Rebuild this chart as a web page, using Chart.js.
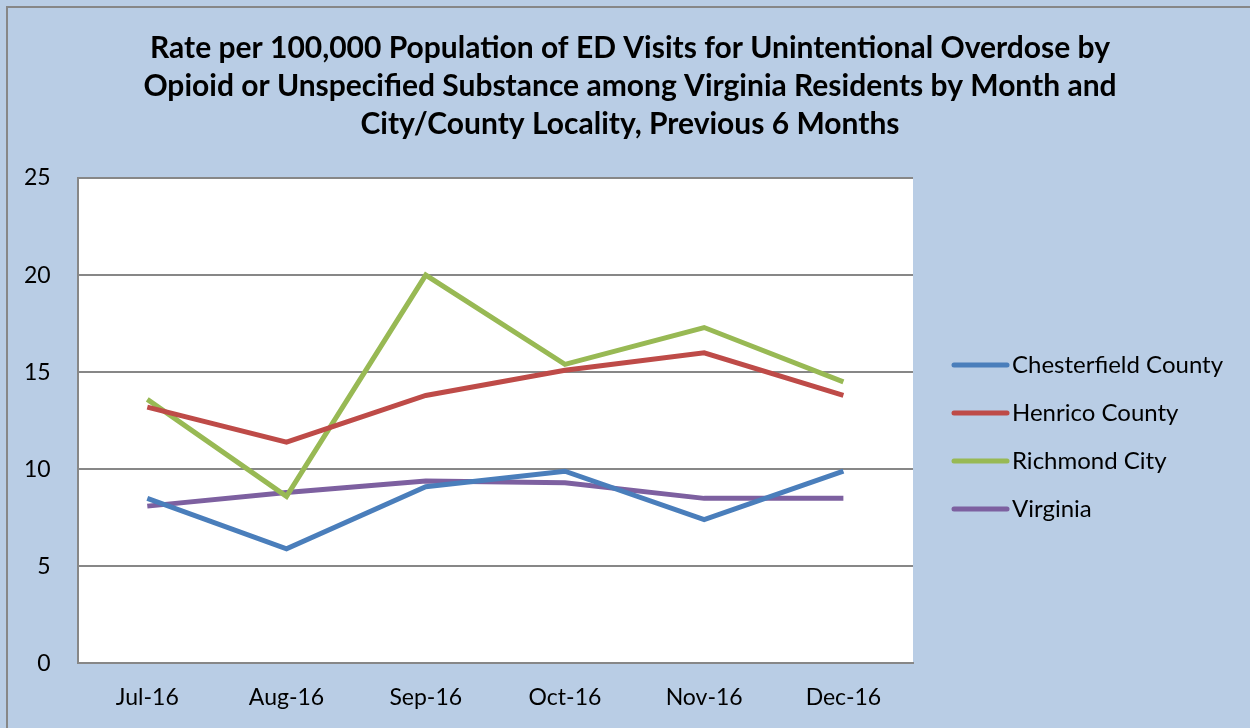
<!DOCTYPE html>
<html lang="en">
<head>
    <meta charset="UTF-8">
    <title>ED Visits for Unintentional Overdose</title>
    <style>
        body { margin: 0; background: #b9cde5; overflow: hidden; }
        #frame { position: absolute; left: 6px; top: 6px; width: 1260px; height: 740px;
                 border-left: 2px solid #878787; border-top: 2px solid #878787; }
        #chart-container { position: absolute; left: 0; top: 0; width: 1250px; height: 728px; }
    </style>
</head>
<body>
    <div id="frame"></div>
    <div id="chart-container">
        <canvas id="resultChart" width="1250" height="728"></canvas>
    </div>

    <script src="https://cdn.jsdelivr.net/npm/chart.js"></script>
    <script>
        const months = ['Jul-16', 'Aug-16', 'Sep-16', 'Oct-16', 'Nov-16', 'Dec-16'];
        const chesterfield = [8.5, 5.9, 9.1, 9.9, 7.4, 9.9];
        const henrico = [13.2, 11.4, 13.8, 15.1, 16.0, 13.8];
        const richmond = [13.6, 8.6, 20.0, 15.4, 17.3, 14.5];
        const virginia = [8.1, 8.8, 9.4, 9.3, 8.5, 8.5];

        const titleLines = [
            'Rate per 100,000 Population of ED Visits for Unintentional Overdose by',
            'Opioid or Unspecified Substance among Virginia Residents by Month and',
            'City/County Locality, Previous 6 Months'
        ];

        // white plot area like the spreadsheet original
        const plotBackground = {
            id: 'plotBackground',
            beforeDraw(chart) {
                const a = chart.chartArea;
                const ctx = chart.ctx;
                ctx.save();
                ctx.fillStyle = '#ffffff';
                ctx.fillRect(a.left, a.top, a.right - a.left, a.bottom - a.top);
                ctx.restore();
            }
        };

        // title centred on the whole canvas, not just the plot column
        const wideTitle = {
            id: 'wideTitle',
            afterDraw(chart) {
                const ctx = chart.ctx;
                ctx.save();
                ctx.font = 'bold 30px Lato, "Open Sans", sans-serif';
                ctx.fillStyle = '#000';
                ctx.textAlign = 'center';
                ctx.textBaseline = 'middle';
                titleLines.forEach(function (line, i) {
                    ctx.fillText(line, 630, 48 + i * 38);
                });
                ctx.restore();
            }
        };

        // legend to the right of the plot, line swatches with round ends
        const sideLegend = {
            id: 'sideLegend',
            afterDraw(chart) {
                const a = chart.chartArea;
                const ctx = chart.ctx;
                ctx.save();
                ctx.font = '24px Lato, "Open Sans", sans-serif';
                ctx.textBaseline = 'middle';
                ctx.lineCap = 'round';
                chart.data.datasets.forEach(function (ds, i) {
                    const y = a.top + 187 + i * 48;
                    const x = a.right + 41;
                    ctx.strokeStyle = ds.borderColor;
                    ctx.lineWidth = 5;
                    ctx.beginPath();
                    ctx.moveTo(x, y);
                    ctx.lineTo(x + 53, y);
                    ctx.stroke();
                    ctx.fillStyle = '#000';
                    ctx.fillText(ds.label, x + 58, y);
                });
                ctx.restore();
            }
        };

        function series(label, data, color) {
            return {
                label: label,
                data: data,
                borderColor: color,
                backgroundColor: color,
                borderWidth: 5,
                pointRadius: 0,
                tension: 0
            };
        }

        Chart.defaults.font.family = 'Lato, "Open Sans", sans-serif';
        Chart.defaults.color = '#000';

        new Chart(document.getElementById('resultChart'), {
            type: 'line',
            data: {
                labels: months,
                datasets: [
                    series('Chesterfield County', chesterfield, '#4a7ebb'),
                    series('Henrico County', henrico, '#be4b48'),
                    series('Richmond City', richmond, '#98b954'),
                    series('Virginia', virginia, '#7d60a0')
                ]
            },
            plugins: [plotBackground, wideTitle, sideLegend],
            options: {
                responsive: false,
                animation: false,
                layout: { padding: { left: -3, right: 337, top: 178, bottom: -3 } },
                plugins: {
                    title: { display: false },
                    legend: { display: false },
                    tooltip: { enabled: false }
                },
                scales: {
                    x: {
                        offset: true,
                        grid: { display: false, drawTicks: false },
                        border: { color: '#878787', width: 2 },
                        ticks: { font: { size: 23 }, padding: 20 }
                    },
                    y: {
                        min: 0,
                        max: 25,
                        ticks: { stepSize: 5, font: { size: 23 }, padding: 27 },
                        grid: { color: '#878787', lineWidth: 2, drawTicks: false },
                        border: { color: '#878787', width: 2 }
                    }
                }
            }
        });
    </script>
</body>
</html>
